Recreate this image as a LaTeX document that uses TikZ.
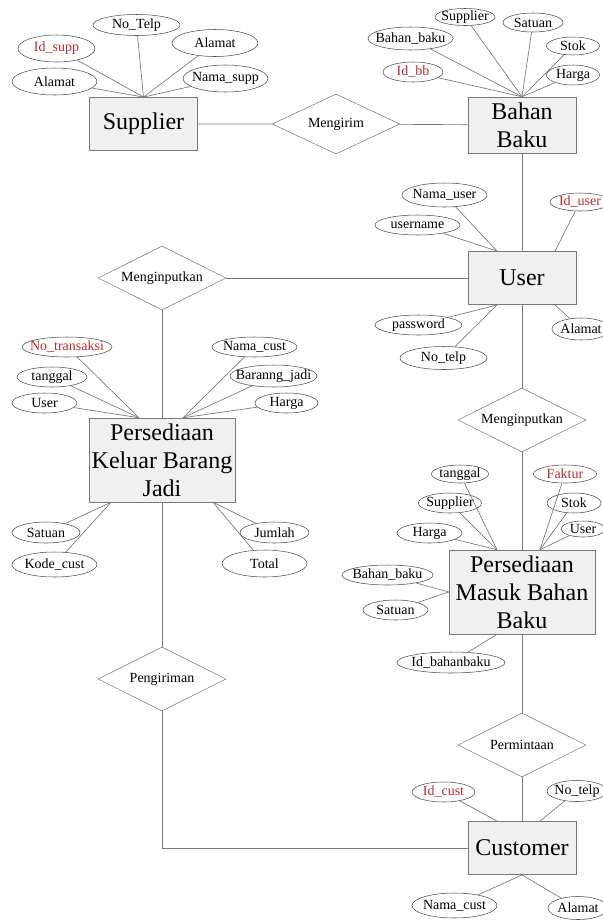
\documentclass[tikz,border=0pt]{standalone}
\usepackage{fontspec}
\setmainfont{Liberation Serif}
\usetikzlibrary{shapes.geometric,calc}
\definecolor{linegray}{RGB}{120,120,120}
\definecolor{boxfill}{RGB}{240,240,240}
\definecolor{keyred}{RGB}{190,40,45}
\tikzset{
  entity/.style={rectangle,draw=linegray,fill=boxfill,minimum width=81pt,minimum height=40pt,inner sep=1pt,align=center,font=\fontsize{18}{21}\selectfont},
  bigentity/.style={entity,minimum width=109.5pt,minimum height=63pt},
  relation/.style={diamond,draw=linegray,fill=white,aspect=2,minimum width=96pt,minimum height=48pt,inner sep=0pt,font=\fontsize{10.5}{12}\selectfont},
  attr/.style 2 args={ellipse,draw=black!70,fill=white,inner xsep=-40pt,inner ysep=-10pt,minimum width=#1*0.75pt,minimum height=#2*0.75pt,font=\fontsize{10.5}{12}\selectfont},
  key/.style={text=keyred},
  link/.style={draw=linegray,line width=0.5pt}
}
\begin{document}
\begin{tikzpicture}[x=0.75pt,y=-0.75pt]
    \useasboundingbox (0,0) rectangle (603,922);
    \clip (0,0) rectangle (603,922);
    \node[entity] (supp) at (143.5,124) {Supplier};
    \node[relation,minimum height=45pt] (mengirim) at (336,124) {Mengirim};
    \node[entity,minimum height=42pt] (bahan) at (522,125) {Bahan\\Baku};
    \node[entity] (user) at (522,278) {User};
    \node[relation] (input1) at (162,278) {Menginputkan};
    \node[bigentity] (keluar) at (162,460) {Persediaan\\Keluar Barang\\Jadi};
    \node[relation] (kirim) at (162,679) {Pengiriman};
    \node[relation] (input2) at (522,420) {Menginputkan};
    \node[bigentity] (masuk) at (522,592) {Persediaan\\Masuk Bahan\\Baku};
    \node[relation] (minta) at (522,745) {Permintaan};
    \node[entity] (cust) at (522,848) {Customer};
    \draw[link] (supp) -- (mengirim) -- (bahan);
    \draw[link] (bahan) -- (user);
    \draw[link] (user) -- (input1);
    \draw[link] (input1) -- (keluar);
    \draw[link] (keluar) -- (kirim);
    \draw[link] (kirim.south) |- (cust.west);
    \draw[link] (user) -- (input2);
    \draw[link] (input2) -- (masuk);
    \draw[link] (masuk) -- (minta);
    \draw[link] (minta) -- (cust);
    \node[attr={77}{27},key] (s1) at (56.5,48.5) {Id\_supp};
    \node[attr={87}{21}] (s2) at (136.5,25) {No\_Telp};
    \node[attr={86}{27}] (s3) at (215,43) {Alamat};
    \node[attr={85}{27}] (s4) at (54.5,81.5) {Alamat};
    \node[attr={85}{27}] (s5) at (225.5,78.5) {Nama\_supp};
    \draw[link] (supp.north) -- (s1);
    \draw[link] (supp.north) -- (s2);
    \draw[link] (supp.north) -- (s3);
    \draw[link] (supp.north) -- (s4);
    \draw[link] (supp.north) -- (s5);
    \node[attr={60}{17}] (b1) at (465,17) {Supplier};
    \node[attr={60}{19}] (b2) at (533,22.5) {Satuan};
    \node[attr={85}{23}] (b3) at (410.5,38.5) {Bahan\_baku};
    \node[attr={53}{18}] (b4) at (573,46) {Stok};
    \node[attr={60}{20},key] (b5) at (413,72) {Id\_bb};
    \node[attr={53}{20}] (b6) at (573,75) {Harga};
    \draw[link] (bahan.north) -- (b1);
    \draw[link] (bahan.north) -- (b2);
    \draw[link] (bahan.north) -- (b3);
    \draw[link] (bahan.north) -- (b4);
    \draw[link] (bahan.north) -- (b5);
    \draw[link] (bahan.north) -- (b6);
    \coordinate (user-nw) at ($(user.north)+(-25,0)$);
    \coordinate (user-ne) at ($(user.north)+(33,0)$);
    \coordinate (user-sw) at ($(user.south)+(-25,0)$);
    \coordinate (user-se) at ($(user.south)+(33,0)$);
    \node[attr={85}{24}] (u1) at (444.5,195) {Nama\_user};
    \node[attr={85}{20}] (u2) at (417.5,225) {username};
    \node[attr={60}{18},key] (u3) at (580,202) {Id\_user};
    \node[attr={87}{20}] (u4) at (418.5,325) {password};
    \node[attr={87}{23}] (u5) at (443.5,358) {No\_telp};
    \node[attr={58}{22}] (u6) at (581,329) {Alamat};
    \draw[link] (user-nw) -- (u1);
    \draw[link] (user-nw) -- (u2);
    \draw[link] (user-ne) -- (u3);
    \draw[link] (user-sw) -- (u4);
    \draw[link] (user-sw) -- (u5);
    \draw[link] (user-se) -- (u6);
    \coordinate (keluar-nw) at ($(keluar.north)+(-23,0)$);
    \coordinate (keluar-ne) at ($(keluar.north)+(21,0)$);
    \coordinate (keluar-sw) at ($(keluar.south)+(-51,0)$);
    \coordinate (keluar-se) at ($(keluar.south)+(51,0)$);
    \node[attr={90}{20},key] (k1) at (67,347) {No\_transaksi};
    \node[attr={70}{20}] (k2) at (52,377) {tanggal};
    \node[attr={65}{20}] (k3) at (44.5,403) {User};
    \node[attr={85}{20}] (k4) at (254.5,347) {Nama\_cust};
    \node[attr={87}{22}] (k5) at (273.5,376) {Baranng\_jadi};
    \node[attr={63}{20}] (k6) at (286.5,403) {Harga};
    \node[attr={68}{21}] (k7) at (46,532.5) {Satuan};
    \node[attr={85}{25}] (k8) at (54.5,564.5) {Kode\_cust};
    \node[attr={69}{21}] (k9) at (274.5,532.5) {Jumlah};
    \node[attr={85}{27}] (k10) at (264.5,563.5) {Total};
    \draw[link] (keluar-nw) -- (k1);
    \draw[link] (keluar-nw) -- (k2);
    \draw[link] (keluar-nw) -- (k3);
    \draw[link] (keluar-ne) -- (k4);
    \draw[link] (keluar-ne) -- (k5);
    \draw[link] (keluar-ne) -- (k6);
    \draw[link] (keluar-sw) -- (k7);
    \draw[link] (keluar-sw) -- (k8);
    \draw[link] (keluar-se) -- (k9);
    \draw[link] (keluar-se) -- (k10);
    \coordinate (masuk-nw) at ($(masuk.north)+(-25,0)$);
    \coordinate (masuk-ne) at ($(masuk.north)+(18,0)$);
    \coordinate (masuk-sw) at ($(masuk.south)+(-25,0)$);
    \node[attr={57}{18}] (m1) at (460,474) {tanggal};
    \node[attr={63}{18},key] (m2) at (565,474) {Faktur};
    \node[attr={63}{20}] (m3) at (450,503) {Supplier};
    \node[attr={54}{20}] (m4) at (574,503) {Stok};
    \node[attr={65}{20}] (m5) at (429.5,533) {Harga};
    \node[attr={44}{16}] (m6) at (583,529) {User};
    \node[attr={91}{20}] (m7) at (387.5,575) {Bahan\_baku};
    \node[attr={65}{20}] (m8) at (395.5,610) {Satuan};
    \node[attr={108}{21}] (m9) at (451,662.5) {Id\_bahanbaku};
    \draw[link] (masuk-nw) -- (m1);
    \draw[link] (masuk-ne) -- (m2);
    \draw[link] (masuk-nw) -- (m3);
    \draw[link] (masuk-ne) -- (m4);
    \draw[link] (masuk-nw) -- (m5);
    \draw[link] (masuk-ne) -- (m6);
    \draw[link] (masuk.west) -- (m7);
    \draw[link] (masuk.west) -- (m8);
    \draw[link] (masuk-sw) -- (m9);
    \coordinate (cust-nw) at ($(cust.north)+(-25,0)$);
    \coordinate (cust-ne) at ($(cust.north)+(18,0)$);
    \node[attr={63}{20},key] (c1) at (443.5,792) {Id\_cust};
    \node[attr={60}{21}] (c2) at (577,791) {No\_telp};
    \node[attr={85}{25}] (c3) at (454.5,905.5) {Nama\_cust};
    \node[attr={60}{23}] (c4) at (578,908) {Alamat};
    \draw[link] (cust-nw) -- (c1);
    \draw[link] (cust-ne) -- (c2);
    \draw[link] (cust.south) -- (c3);
    \draw[link] (cust.south) -- (c4);
  \end{tikzpicture}
\end{document}
